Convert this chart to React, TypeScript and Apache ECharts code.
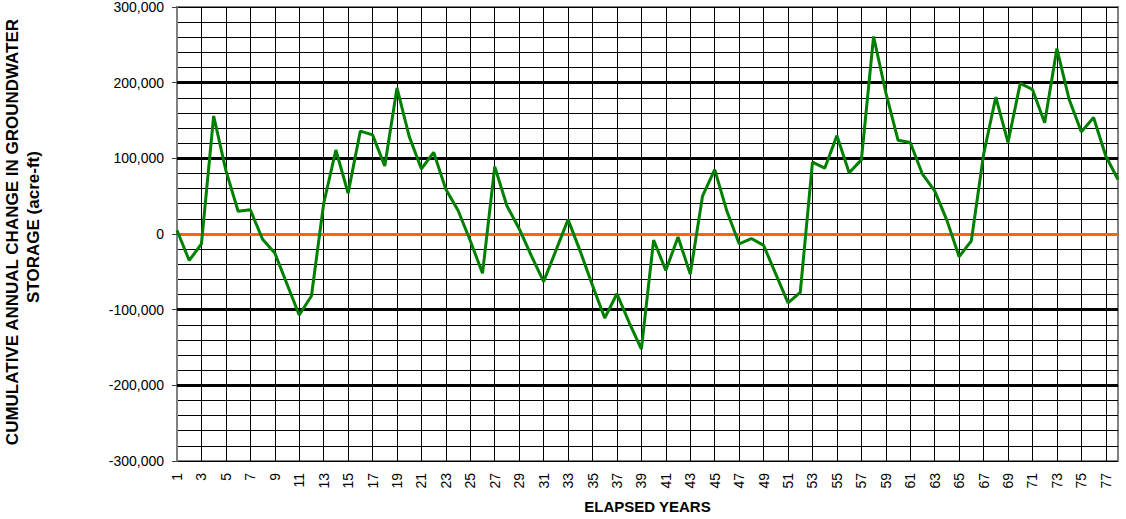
import React, { useEffect, useRef } from "react";
import * as echarts from "echarts";

const years: string[] = [
  "1","2","3","4","5","6","7","8","9","10","11","12","13","14","15","16","17","18","19","20",
  "21","22","23","24","25","26","27","28","29","30","31","32","33","34","35","36","37","38","39","40",
  "41","42","43","44","45","46","47","48","49","50","51","52","53","54","55","56","57","58","59","60",
  "61","62","63","64","65","66","67","68","69","70","71","72","73","74","75","76","77","78",
];

const storageChange: number[] = [
  5000, -35000, -13000, 156000, 84000, 30000, 32000, -7000, -25000, -66000,
  -107000, -82000, 40000, 111000, 54000, 136000, 131000, 90000, 193000, 129000,
  86000, 108000, 59000, 31000, -9000, -52000, 89000, 37000, 7000, -29000,
  -63000, -22000, 19000, -23000, -68000, -111000, -79000, -117000, -152000, -8000,
  -48000, -4000, -53000, 50000, 85000, 30000, -13000, -6000, -15000, -53000,
  -91000, -77000, 95000, 87000, 130000, 81000, 98000, 261000, 187000, 124000,
  121000, 79000, 57000, 18000, -30000, -9000, 105000, 181000, 121000, 199000,
  191000, 147000, 245000, 178000, 135000, 154000, 103000, 72000,
];

const majorLines: number[] = [-200000, -100000, 100000, 200000];
const zeroLine = 0;

const yTitleLine1 = "CUMULATIVE ANNUAL CHANGE IN GROUNDWATER";
const yTitleLine2 = "STORAGE (acre-ft)";
const xTitle = "ELAPSED YEARS";

const FONT = 'Arial, "Liberation Sans", sans-serif';

export default function App() {
  const ref = useRef<HTMLDivElement>(null);

  useEffect(() => {
    if (!ref.current) return;
    const chart = echarts.init(ref.current, undefined, { renderer: "svg" });
    chart.setOption({
      animation: false,
      backgroundColor: "#fff",
      textStyle: { fontFamily: FONT },
      grid: {
        left: 177,
        right: 8,
        top: 6,
        bottom: 58,
        show: true,
        borderColor: "#808080",
        borderWidth: 2,
        backgroundColor: "transparent",
      },
      xAxis: {
        type: "category",
        data: years,
        boundaryGap: false,
        name: xTitle,
        nameLocation: "middle",
        nameGap: 38,
        nameTextStyle: { fontSize: 15, fontWeight: "bold", color: "#000", fontFamily: FONT },
        axisLine: { show: true, lineStyle: { color: "#808080", width: 2 } },
        axisTick: { show: false },
        axisLabel: {
          interval: 1,
          rotate: 90,
          fontSize: 14,
          color: "#000",
          margin: 12,
          fontFamily: FONT,
        },
        splitLine: { show: true, interval: 1, lineStyle: { color: "#000", width: 1 } },
      },
      yAxis: {
        type: "value",
        min: -300000,
        max: 300000,
        interval: 100000,
        axisLine: { show: true, lineStyle: { color: "#808080", width: 2 } },
        axisTick: { show: true, length: 5, lineStyle: { color: "#404040", width: 1 } },
        axisLabel: {
          fontSize: 14,
          color: "#000",
          margin: 13,
          fontFamily: FONT,
          formatter: (v: number) => v.toLocaleString("en-US"),
        },
        splitLine: { show: true, lineStyle: { color: "#000", width: 1 } },
        minorTick: { show: false, splitNumber: 5 },
        minorSplitLine: { show: true, lineStyle: { color: "#000", width: 1 } },
      },
      graphic: [
        {
          type: "text",
          x: 12.5,
          y: 232,
          rotation: Math.PI / 2,
          style: {
            text: yTitleLine1,
            fontSize: 17,
            fontWeight: "bold",
            fontFamily: FONT,
            fill: "#000",
            align: "center",
            verticalAlign: "middle",
          },
        },
        {
          type: "text",
          x: 33,
          y: 227,
          rotation: Math.PI / 2,
          style: {
            text: yTitleLine2,
            fontSize: 17,
            fontWeight: "bold",
            fontFamily: FONT,
            fill: "#000",
            align: "center",
            verticalAlign: "middle",
          },
        },
      ],
      series: [
        {
          type: "line",
          name: "Cumulative change",
          data: storageChange,
          symbol: "none",
          z: 3,
          lineStyle: { color: "#008000", width: 3 },
          markLine: {
            silent: true,
            symbol: "none",
            z: 1,
            label: { show: false },
            data: [
              ...majorLines.map((v) => ({
                yAxis: v,
                lineStyle: { color: "#000", width: 3, type: "solid" },
              })),
              { yAxis: zeroLine, lineStyle: { color: "#FF6600", width: 3, type: "solid" } },
            ],
          },
        },
      ],
    });
    return () => chart.dispose();
  }, []);

  return (
    <div
      ref={ref}
      style={{ position: "fixed", left: 0, top: 0, width: 1126, height: 519 }}
    />
  );
}
